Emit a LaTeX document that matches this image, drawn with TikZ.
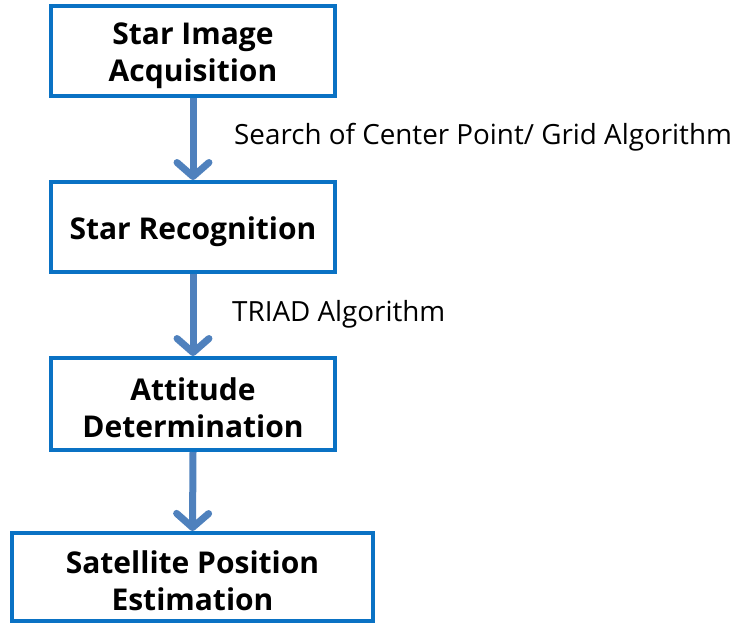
\documentclass[tikz,border=0pt]{standalone}
\usepackage{fontspec}
\setmainfont{Open Sans}
\usetikzlibrary{arrows.meta}
\definecolor{boxblue}{HTML}{0A72C4}
\definecolor{arrowblue}{HTML}{4F81BD}
\newcommand{\dnstrut}{\rule{0pt}{29.5pt}}
\begin{document}
\begin{tikzpicture}[x=1pt,y=-1pt,
  stepbox/.style={draw=boxblue,line width=4pt,rectangle,align=center,
    font=\fontsize{30}{37}\selectfont\bfseries,inner sep=0pt},
  flow/.style={draw=arrowblue,line width=7pt,
    -{Straight Barb[length=14pt,width=32pt,line cap=round,line join=round]}},
  lbl/.style={font=\fontsize{27.8}{32}\selectfont,anchor=west,inner sep=0pt}]
\useasboundingbox (0,0) rectangle (743,623);
\node[stepbox,minimum width=284pt,minimum height=90pt] (a) at (193,51.5) {\dnstrut Star Image\\Acquisition};
\node[stepbox,minimum width=284pt,minimum height=90pt] (b) at (193,227) {\rule{0pt}{32pt}Star Recognition};
\node[stepbox,minimum width=284pt,minimum height=92pt] (c) at (193,404) {\dnstrut Attitude\\Determination};
\node[stepbox,minimum width=361pt,minimum height=88pt] (d) at (192.5,577) {\dnstrut Satellite Position\\Estimation};
\draw[flow] (a.south) -- (b.north);
\draw[flow] (b.south) -- (c.north);
\draw[flow] (c.south) -- (d.north);
\node[lbl] (l1) at (234,137) {Search of Center Point/ Grid Algorithm};
\node[lbl] (l2) at (232,314) {TRIAD Algorithm};
\end{tikzpicture}
\end{document}
